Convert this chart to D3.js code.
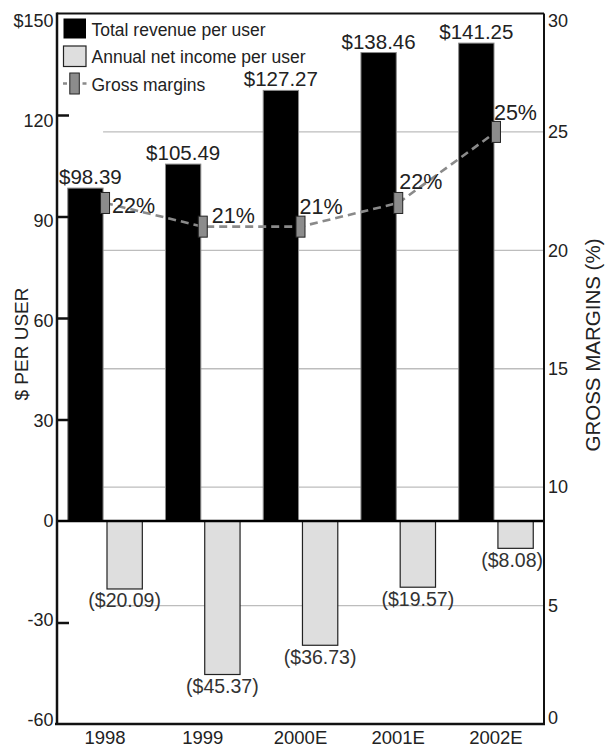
<!DOCTYPE html>
<html><head><meta charset="utf-8">
<script src="https://cdn.jsdelivr.net/npm/d3@7"></script>
<style>
html,body{margin:0;padding:0;background:#fff}
svg{display:block}
text{font-family:"Liberation Sans",Arial,Helvetica,sans-serif;fill:#222}
</style>
</head><body>
<svg id="chart" width="606" height="751"></svg>
<script>
// ---- data ----
const years = ["1998", "1999", "2000E", "2001E", "2002E"];
const revenuePerUser = [98.39, 105.49, 127.27, 138.46, 141.25];
const netIncomePerUser = [-20.09, -45.37, -36.73, -19.57, -8.08];
const grossMargins = [22, 21, 21, 22, 25];
const leftTicks = [-60, -30, 0, 30, 60, 90, 120, 150];
const rightTicks = [0, 5, 10, 15, 20, 25, 30];
const seriesNames = ["Total revenue per user", "Annual net income per user", "Gross margins"];
const leftTitle = "$ PER USER";
const rightTitle = "GROSS MARGINS (%)";

// ---- layout (not data) ----
const L = 57, R = 544, T = 13.5, B = 724;
const pctLabelDx = [7, 9, -1, 1, -2];
const pctLabelDy = [10, -4, -13, -14, -12];

const svg = d3.select("#chart");

const x = d3.scaleBand().domain(years).range([L, R]).paddingInner(0.237).paddingOuter(0.11);
const xs = d3.scaleBand().domain(["rev", "inc"]).range([0, x.bandwidth()]).paddingInner(0.1);
const yL = d3.scaleLinear().domain([-60, 150]).range([B, T]);
const yR = d3.scaleLinear().domain([0, 30]).range([B, T]);
const yLabel = d3.scaleLinear().domain([-60, 150]).range([720, 21]);

const rows = years.map((y, i) => ({year: y, rev: revenuePerUser[i], inc: netIncomePerUser[i], gm: grossMargins[i], i}));

// gridlines (right-axis ticks)
const gridStart = x(years[0]) + xs("rev") + xs.bandwidth();
svg.append("g").selectAll("line")
  .data(rightTicks.filter(v => v > 0 && v < 30))
  .join("line")
  .attr("x1", gridStart).attr("x2", R)
  .attr("y1", d => yR(d)).attr("y2", d => yR(d))
  .attr("stroke", "#bdbdbd").attr("stroke-width", 1.3);

// revenue bars
svg.append("g").selectAll("rect")
  .data(rows).join("rect")
  .attr("x", d => x(d.year) + xs("rev"))
  .attr("width", xs.bandwidth())
  .attr("y", d => yL(d.rev))
  .attr("height", d => yL(0) - yL(d.rev))
  .attr("fill", "#000").attr("stroke", "#8a8a8a").attr("stroke-width", 1);

// net income bars
svg.append("g").selectAll("rect")
  .data(rows).join("rect")
  .attr("x", d => x(d.year) + xs("inc"))
  .attr("width", xs.bandwidth())
  .attr("y", d => yL(Math.max(0, d.inc)))
  .attr("height", d => Math.abs(yL(d.inc) - yL(0)))
  .attr("fill", "#dedede").attr("stroke", "#222").attr("stroke-width", 1.2);

// zero line
svg.append("line").attr("x1", L).attr("x2", R).attr("y1", yL(0)).attr("y2", yL(0))
  .attr("stroke", "#000").attr("stroke-width", 2.5);

// frame
svg.append("line").attr("x1", L).attr("x2", R).attr("y1", T).attr("y2", T).attr("stroke", "#111").attr("stroke-width", 2);
svg.append("line").attr("x1", R).attr("x2", R).attr("y1", T).attr("y2", B).attr("stroke", "#111").attr("stroke-width", 2);
svg.append("line").attr("x1", L - 2).attr("x2", R + 1).attr("y1", B).attr("y2", B).attr("stroke", "#111").attr("stroke-width", 2.5);
svg.append("line").attr("x1", L).attr("x2", L).attr("y1", T - 1).attr("y2", B + 1).attr("stroke", "#111").attr("stroke-width", 2.5);

// left inner ticks
const leftAxis = svg.append("g").attr("transform", `translate(${L},0)`)
  .call(d3.axisLeft(yL).tickValues(leftTicks.filter(v => v > -60 && v < 150 && v !== 0)).tickSize(-12).tickFormat(""));
leftAxis.select(".domain").remove();
leftAxis.selectAll(".tick line").attr("stroke", "#111").attr("stroke-width", 2.5);

// left tick labels
svg.append("g").selectAll("text")
  .data(leftTicks).join("text")
  .attr("x", L - 3.5)
  .attr("y", d => yLabel(d))
  .attr("dy", "0.35em")
  .attr("text-anchor", "end")
  .attr("font-size", 18)
  .text(d => d === 150 ? "$" + d : String(d));

// right tick labels
svg.append("g").selectAll("text")
  .data(rightTicks).join("text")
  .attr("x", R + 4)
  .attr("y", d => Math.min(718, Math.max(21, yR(d))))
  .attr("dy", "0.35em")
  .attr("text-anchor", "start")
  .attr("font-size", 18)
  .text(d => String(d));

// axis titles
svg.append("text").attr("transform", "translate(27.5,344) rotate(-90)")
  .attr("text-anchor", "middle").attr("font-size", 19).text(leftTitle);
svg.append("text").attr("transform", "translate(600,345) rotate(-90)")
  .attr("text-anchor", "middle").attr("font-size", 20.5).text(rightTitle);

// year labels
svg.append("g").selectAll("text")
  .data(years).join("text")
  .attr("x", d => x(d) + x.bandwidth() / 2)
  .attr("y", 744)
  .attr("text-anchor", "middle")
  .attr("font-size", 18.5)
  .text(d => d);

// gross margin line
const cx = d => x(d.year) + x.bandwidth() / 2;
svg.append("path")
  .datum(rows)
  .attr("d", d3.line().x(cx).y(d => yR(d.gm)))
  .attr("fill", "none").attr("stroke", "#8a8a8a").attr("stroke-width", 2.6)
  .attr("stroke-dasharray", "8,5");

svg.append("g").selectAll("rect")
  .data(rows).join("rect")
  .attr("x", d => cx(d) - 4.5).attr("width", 9)
  .attr("y", d => yR(d.gm) - 10.5).attr("height", 21)
  .attr("fill", "#8c8c8c").attr("stroke", "#222").attr("stroke-width", 1);

// value labels helper: keep inside frame
function clampX(sel) {
  sel.each(function () {
    const bb = this.getBBox();
    let shift = 0;
    if (bb.x < L + 2) shift = L + 2 - bb.x;
    if (bb.x + bb.width > R - 1) shift = R - 1 - (bb.x + bb.width);
    if (shift) d3.select(this).attr("x", +d3.select(this).attr("x") + shift);
  });
}

const fmt = d3.format(".2f");
svg.append("g").selectAll("text")
  .data(rows).join("text")
  .attr("x", d => x(d.year) + xs("rev") + xs.bandwidth() / 2)
  .attr("y", d => yL(d.rev) - 4)
  .attr("text-anchor", "middle")
  .attr("font-size", 20.5)
  .attr("fill", "#1a1a1a")
  .text(d => "$" + fmt(d.rev))
  .call(clampX);

svg.append("g").selectAll("text")
  .data(rows).join("text")
  .attr("x", d => x(d.year) + xs("inc") + xs.bandwidth() / 2)
  .attr("y", d => yL(d.inc) + 18.5)
  .attr("text-anchor", "middle")
  .attr("font-size", 19.5)
  .style("fill", "#333")
  .text(d => "($" + fmt(Math.abs(d.inc)) + ")")
  .call(clampX);

svg.append("g").selectAll("text")
  .data(rows).join("text")
  .attr("x", d => cx(d) + pctLabelDx[d.i])
  .attr("y", d => yR(d.gm) + pctLabelDy[d.i])
  .attr("text-anchor", "start")
  .attr("font-size", 21.5)
  .attr("fill", "#1a1a1a")
  .text(d => d.gm + "%");

// legend
const legend = svg.append("g");
const ly = i => 28.5 + i * 27.5;
legend.append("rect").attr("x", 63.5).attr("y", ly(0) - 10).attr("width", 22.5).attr("height", 20).attr("fill", "#000");
legend.append("rect").attr("x", 63.5).attr("y", ly(1) - 10).attr("width", 22.5).attr("height", 20.5)
  .attr("fill", "#dedede").attr("stroke", "#222").attr("stroke-width", 1.2);
legend.append("line").attr("x1", 63).attr("x2", 67).attr("y1", ly(2)).attr("y2", ly(2)).attr("stroke", "#8a8a8a").attr("stroke-width", 2.5);
legend.append("line").attr("x1", 82.5).attr("x2", 86.5).attr("y1", ly(2)).attr("y2", ly(2)).attr("stroke", "#8a8a8a").attr("stroke-width", 2.5);
legend.append("rect").attr("x", 69.8).attr("y", ly(2) - 10.5).attr("width", 9.5).attr("height", 21)
  .attr("fill", "#8c8c8c").attr("stroke", "#222").attr("stroke-width", 1);
legend.selectAll("text.lg").data(seriesNames).join("text")
  .attr("class", "lg")
  .attr("x", 91.5)
  .attr("y", (d, i) => ly(i) + 7)
  .attr("font-size", 17.5)
  .text(d => d);
</script>
</body></html>
